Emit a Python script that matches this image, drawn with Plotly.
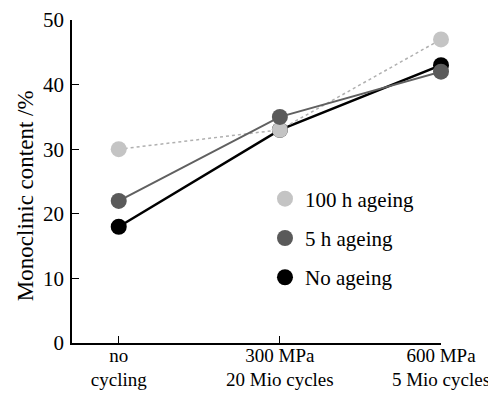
import plotly.graph_objects as go

categories = ["no<br>cycling", "300 MPa<br>20 Mio cycles", "600 MPa<br>5 Mio cycles"]
x_pos = [0, 1, 2]
no_ageing = [18, 33, 43]
ageing_5h = [22, 35, 42]
ageing_100h = [30, 33, 47]

y_ticks = [0, 10, 20, 30, 40, 50]
y_title = "Monoclinic content /%"
font = dict(family="Liberation Serif", size=21, color="black")
xfont = dict(family="Liberation Serif", size=19, color="black")
tfont = dict(family="Liberation Serif", size=23, color="black")

fig = go.Figure()

series = [
    ("No ageing", no_ageing, "black", "black", 2.5, "solid", 3),
    ("100 h ageing", ageing_100h, "#c4c4c4", "#b0b0b0", 1.5, "dot", 1),
    ("5 h ageing", ageing_5h, "#5a5a5a", "#606060", 2, "solid", 2),
]

for name, vals, mcol, lcol, lw, dash, rank in series:
    fig.add_trace(go.Scatter(
        x=x_pos, y=vals, mode="lines",
        line=dict(color=lcol, width=lw, dash=dash),
        showlegend=False, hoverinfo="skip", cliponaxis=False,
    ))
for name, vals, mcol, lcol, lw, dash, rank in series:
    fig.add_trace(go.Scatter(
        x=x_pos, y=vals, mode="markers", name=name,
        marker=dict(color=mcol, size=16, line=dict(width=0)),
        legendrank=rank, legendgroup=name, cliponaxis=False,
    ))

fig.add_annotation(
    text=y_title, xref="paper", yref="paper", x=-0.127, y=0.455,
    xanchor="center", yanchor="middle", textangle=-90, showarrow=False, font=tfont,
)

fig.update_layout(
    width=488, height=394,
    margin=dict(l=64, r=55, t=12, b=59),
    paper_bgcolor="white", plot_bgcolor="white",
    font=font,
    showlegend=True,
    legend=dict(
        x=0.523, y=0.325, xanchor="left", yanchor="middle",
        bgcolor="rgba(0,0,0,0)", font=font,
        tracegroupgap=9, itemwidth=30,
    ),
    xaxis=dict(
        range=[-0.29, 2.0], tickmode="array", tickvals=x_pos, ticktext=categories,
        tickfont=xfont,
        showgrid=False, zeroline=False, showline=True, linecolor="black", linewidth=1.5,
        ticks="inside", ticklen=7, tickcolor="black", tickwidth=1.2,
        ticklabelstandoff=-6, automargin=False,
    ),
    yaxis=dict(
        range=[0, 50], tickmode="array", tickvals=y_ticks,
        showgrid=False, zeroline=False, showline=True, linecolor="black", linewidth=1.5,
        ticks="inside", ticklen=7, tickcolor="black", tickwidth=1.2,
        ticklabelstandoff=2, automargin=False,
    ),
)

fig.write_html("out.html")
